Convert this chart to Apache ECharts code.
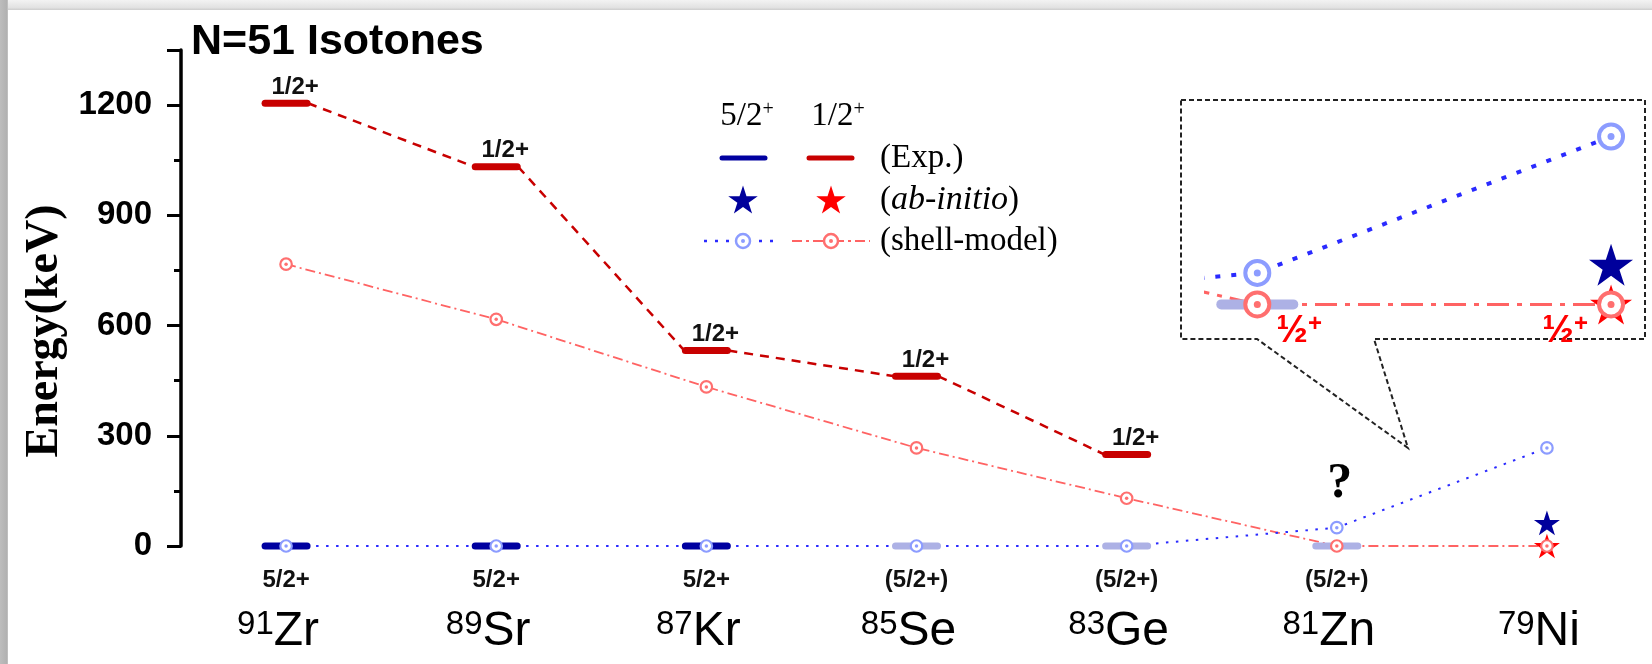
<!DOCTYPE html>
<html>
<head>
<meta charset="utf-8">
<title>N=51 Isotones</title>
<script src="https://cdn.jsdelivr.net/npm/echarts@6.0.0/dist/echarts.min.js"></script>
<style>
  html, body { margin: 0; padding: 0; background: #fff; }
  #main { width: 1652px; height: 664px; }
</style>
</head>
<body>
<div id="main"></div>
<script>
// N = 51 isotones, from Z = 40 down to Z = 28
var massNumbers = ['91', '89', '87', '85', '83', '81', '79']
var elements = ['Zr', 'Sr', 'Kr', 'Se', 'Ge', 'Zn', 'Ni']

// experimental levels (keV), null = not measured
var exp52 = [0, 0, 0, 0, 0, 0, null]
var exp52Labels = ['5/2+', '5/2+', '5/2+', '(5/2+)', '(5/2+)', '(5/2+)', '']
var exp52Tentative = [false, false, false, true, true, true, false]
var exp12 = [1205, 1032, 532, 462, 249, null, null]
var exp12Labels = ['1/2+', '1/2+', '1/2+', '1/2+', '1/2+', '', '']

// shell-model results (keV)
var sm52 = [0, 0, 0, 0, 0, 50, 267]
var sm12 = [767, 617, 433, 267, 130, 0, 0]

// ab-initio results (keV)
var ab52 = [null, null, null, null, null, null, 63]
var ab12 = [null, null, null, null, null, null, 0]

// y axis tick labels
var yTicks = [0, 300, 600, 900, 1200]

var SANS = '"Liberation Sans", Arial, sans-serif'
var SERIF = '"Liberation Serif", "Times New Roman", serif'
var EXP_RED = '#c80000'
var EXP_BLUE = '#0000a0'
var EXP_BLUE_TENT = '#adb1e5'
var SM_RED = '#ff6363'
var SM_RED_RING = '#ff6f6f'
var SM_BLUE = '#2a2aff'
var SM_BLUE_RING = '#8c9cff'
var STAR = 'path://M50,0L61.23,34.55L97.55,34.55L68.17,55.9L79.39,90.45L50,69.1L20.61,90.45L31.83,55.9L2.45,34.55L38.77,34.55Z'

function pairs (arr) {
  var out = []
  arr.forEach(function (v, i) {
    if (v !== null) out.push([i, v])
  })
  return out
}

function links (arr) {
  var out = []
  for (var i = 0; i < arr.length - 1; i++) {
    if (arr[i] !== null && arr[i + 1] !== null) out.push([i, arr[i], arr[i + 1]])
  }
  return out
}

// horizontal level bars, optional spin label
function levelSeries (opt) {
  return {
    type: 'custom',
    xAxisIndex: opt.grid,
    yAxisIndex: opt.grid,
    z: 3,
    clip: !!opt.clip,
    silent: true,
    data: pairs(opt.values),
    encode: { x: 0, y: 1 },
    renderItem: function (params, api) {
      var i = api.value(0)
      var p = api.coord([i, api.value(1)])
      var children = [{
        type: 'line',
        shape: { x1: p[0] - opt.half, y1: p[1], x2: p[0] + opt.half, y2: p[1] },
        style: { stroke: opt.color(i), lineWidth: opt.width, lineCap: 'round' }
      }]
      if (opt.labels && opt.labels[i]) {
        children.push({
          type: 'text',
          x: p[0] + opt.labelDx,
          y: p[1] + opt.labelDy,
          style: {
            text: opt.labels[i],
            fontFamily: SANS,
            fontSize: 24,
            fontWeight: 'bold',
            fill: '#111',
            align: 'center',
            verticalAlign: 'middle'
          }
        })
      }
      return { type: 'group', children: children }
    }
  }
}

function starSeries (values, color, grid, size) {
  return {
    type: 'scatter',
    xAxisIndex: grid,
    yAxisIndex: grid,
    z: 4,
    silent: true,
    symbol: STAR,
    symbolKeepAspect: true,
    symbolSize: size,
    itemStyle: { color: color, opacity: 1 },
    data: pairs(values)
  }
}

function ringSeries (data, color, grid, size, bw) {
  return {
    type: 'scatter',
    xAxisIndex: grid,
    yAxisIndex: grid,
    z: 5,
    silent: true,
    symbol: 'circle',
    symbolSize: size,
    itemStyle: { color: '#fff', borderColor: color, borderWidth: bw, opacity: 1 },
    data: data
  }
}

function dotSeries (values, color, grid, size) {
  return {
    type: 'scatter',
    xAxisIndex: grid,
    yAxisIndex: grid,
    z: 6,
    silent: true,
    symbol: 'circle',
    symbolSize: size,
    itemStyle: { color: color, opacity: 1 },
    data: pairs(values)
  }
}

function starPoints (cx, cy, r) {
  var pts = []
  for (var k = 0; k < 10; k++) {
    var a = -Math.PI / 2 + k * Math.PI / 5
    var rr = k % 2 === 0 ? r : r * 0.382
    pts.push([cx + rr * Math.cos(a), cy + rr * Math.sin(a)])
  }
  return pts
}

// main-chart shell-model 5/2+ points, the 81Zn one carries the "?"
var sm52Main = pairs(sm52).map(function (d) {
  if (d[0] !== 5) return d
  return {
    value: d,
    label: {
      show: true,
      position: 'top',
      distance: 12,
      formatter: '?',
      fontFamily: SERIF,
      fontSize: 50,
      fontWeight: 'bold',
      color: '#000',
      offset: [3, 0]
    }
  }
})

// inset shell-model 1/2+ points with the red ½+ tags
var sm12Inset = pairs(sm12).map(function (d) {
  if (d[0] < 5) return d
  return {
    value: d,
    label: {
      show: true,
      position: d[0] === 5 ? 'right' : 'left',
      distance: d[0] === 5 ? 5 : 9,
      offset: [0, 27],
      formatter: '{h|½}{p|+}',
      rich: {
        h: { fontFamily: SANS, fontSize: 38, fontWeight: 'bold', color: '#ff0000' },
        p: { fontFamily: SANS, fontSize: 24, fontWeight: 'bold', color: '#ff0000', verticalAlign: 'top', lineHeight: 18 }
      }
    }
  }
})

var legendText = { fontFamily: SERIF, fontSize: 33, fill: '#000', verticalAlign: 'middle' }
var headRich = {
  n: { fontFamily: SERIF, fontSize: 33, fill: '#000' },
  s: { fontFamily: SERIF, fontSize: 20, fill: '#000', verticalAlign: 'top', lineHeight: 14 }
}

var graphic = [
  // picture frame shadow
  {
    type: 'rect', shape: { x: 0, y: 0, width: 1652, height: 10 }, silent: true,
    style: { fill: new echarts.graphic.LinearGradient(0, 0, 0, 1, [{ offset: 0, color: '#f3f3f3' }, { offset: 0.75, color: '#e2e2e2' }, { offset: 1, color: '#cdcdcd' }]) }
  },
  {
    type: 'rect', shape: { x: 0, y: 0, width: 8, height: 664 }, silent: true,
    style: { fill: new echarts.graphic.LinearGradient(0, 0, 1, 0, [{ offset: 0, color: '#bdbdbd' }, { offset: 0.85, color: '#b1b1b1' }, { offset: 1, color: '#c9c9c9' }]) }
  },
  // legend
  { type: 'text', x: 747, y: 116, silent: true, style: { text: '{n|5/2}{s|+}', rich: headRich, align: 'center', verticalAlign: 'middle' } },
  { type: 'text', x: 838, y: 116, silent: true, style: { text: '{n|1/2}{s|+}', rich: headRich, align: 'center', verticalAlign: 'middle' } },
  { type: 'line', silent: true, shape: { x1: 722, y1: 158, x2: 765, y2: 158 }, style: { stroke: EXP_BLUE, lineWidth: 5, lineCap: 'round' } },
  { type: 'line', silent: true, shape: { x1: 809, y1: 158, x2: 852, y2: 158 }, style: { stroke: EXP_RED, lineWidth: 5, lineCap: 'round' } },
  { type: 'text', x: 880, y: 158, silent: true, style: Object.assign({ text: '(Exp.)' }, legendText) },
  { type: 'polygon', silent: true, shape: { points: starPoints(743, 201, 15.5) }, style: { fill: '#00009c' } },
  { type: 'polygon', silent: true, shape: { points: starPoints(831, 201, 15.5) }, style: { fill: '#ff0000' } },
  {
    type: 'text', x: 880, y: 200, silent: true,
    style: {
      text: '{r|(}{i|ab-initio}{r|)}',
      verticalAlign: 'middle',
      rich: {
        r: { fontFamily: SERIF, fontSize: 33, fill: '#000' },
        i: { fontFamily: SERIF, fontSize: 34, fontStyle: 'italic', fill: '#000' }
      }
    }
  },
  { type: 'line', silent: true, shape: { x1: 704, y1: 241, x2: 778, y2: 241 }, style: { stroke: SM_BLUE, lineWidth: 2.5, lineDash: [3, 8] } },
  { type: 'circle', silent: true, shape: { cx: 743, cy: 241, r: 7 }, style: { fill: '#fff', stroke: SM_BLUE_RING, lineWidth: 2.5 } },
  { type: 'circle', silent: true, shape: { cx: 743, cy: 241, r: 2 }, style: { fill: SM_BLUE_RING } },
  { type: 'line', silent: true, shape: { x1: 792, y1: 241, x2: 870, y2: 241 }, style: { stroke: SM_RED, lineWidth: 2, lineDash: [10, 4, 3, 4] } },
  { type: 'circle', silent: true, shape: { cx: 831, cy: 241, r: 7 }, style: { fill: '#fff', stroke: SM_RED_RING, lineWidth: 2.5 } },
  { type: 'circle', silent: true, shape: { cx: 831, cy: 241, r: 2 }, style: { fill: SM_RED_RING } },
  { type: 'text', x: 880, y: 241, silent: true, style: Object.assign({ text: '(shell-model)' }, legendText) },
  // callout around the zoomed 81Zn-79Ni view
  {
    type: 'polygon', silent: true,
    shape: { points: [[1181, 100], [1645, 100], [1645, 339], [1374, 339], [1408, 448], [1257, 339], [1181, 339]] },
    style: { fill: 'none', stroke: '#222', lineWidth: 2, lineDash: [5, 3] }
  }
]

var chartDom = document.getElementById('main')
var myChart = echarts.init(chartDom)
var option

option = {
  backgroundColor: '#fff',
  animation: false,
  title: {
    text: 'N=51 Isotones',
    left: 191,
    top: 21,
    padding: 0,
    textStyle: { fontFamily: SANS, fontSize: 43, fontWeight: 'bold', color: '#000' }
  },
  graphic: graphic,
  grid: [
    { left: 181, top: 50, width: 1484, bottom: 118 },
    { left: 1206, top: 100, width: 439, height: 239 }
  ],
  xAxis: [{
    type: 'category',
    gridIndex: 0,
    data: elements,
    boundaryGap: true,
    axisLine: { show: false },
    axisTick: { show: false },
    splitLine: { show: false },
    axisLabel: {
      interval: 0,
      margin: 62,
      padding: [0, 16, 0, 0],
      formatter: function (value, index) {
        return '{sup|' + massNumbers[index] + '}{el|' + value + '}'
      },
      rich: {
        sup: { fontFamily: SANS, fontSize: 33, color: '#000', verticalAlign: 'top', lineHeight: 21 },
        el: { fontFamily: SANS, fontSize: 48, color: '#000', lineHeight: 48 }
      }
    }
  }, {
    type: 'value',
    gridIndex: 1,
    min: 4.855,
    max: 6.096,
    show: false
  }],
  yAxis: [{
    type: 'value',
    gridIndex: 0,
    min: 0,
    max: 1350,
    interval: 300,
    name: 'Energy(keV)',
    nameLocation: 'middle',
    nameRotate: 90,
    nameGap: 111,
    nameTextStyle: { fontFamily: SERIF, fontSize: 46, fontWeight: 'bold', color: '#000', padding: [0, 66, 0, 0] },
    axisLine: { show: true, lineStyle: { color: '#000', width: 3.5 } },
    axisTick: { show: true, length: 14, lineStyle: { color: '#000', width: 3 } },
    minorTick: { show: true, splitNumber: 2, length: 7, lineStyle: { color: '#000', width: 3 } },
    splitLine: { show: false },
    axisLabel: {
      margin: 29,
      fontFamily: SANS,
      fontSize: 33,
      fontWeight: 'bold',
      color: '#000',
      formatter: function (v) {
        return yTicks.indexOf(v) >= 0 ? String(v) : ''
      }
    }
  }, {
    type: 'value',
    gridIndex: 1,
    min: -55,
    max: 325,
    show: false
  }],
  series: [
    // ---- main panel ----
    {
      type: 'line', xAxisIndex: 0, yAxisIndex: 0, z: 2, silent: true,
      data: sm12, symbol: 'none',
      lineStyle: { color: SM_RED, width: 1.8, type: [10, 4, 2, 4] }
    },
    {
      type: 'line', xAxisIndex: 0, yAxisIndex: 0, z: 2, silent: true,
      data: sm52, symbol: 'none',
      lineStyle: { color: SM_BLUE, width: 2, type: [2.5, 7.5] }
    },
    {
      type: 'custom', xAxisIndex: 0, yAxisIndex: 0, z: 2, silent: true,
      data: links(exp12),
      encode: { x: 0, y: [1, 2] },
      renderItem: function (params, api) {
        var a = api.coord([api.value(0), api.value(1)])
        var b = api.coord([api.value(0) + 1, api.value(2)])
        return {
          type: 'line',
          shape: { x1: a[0] + 22, y1: a[1], x2: b[0] - 22, y2: b[1] },
          style: { stroke: EXP_RED, lineWidth: 2.5, lineDash: [9, 7] }
        }
      }
    },
    levelSeries({
      grid: 0, values: exp52, half: 21, width: 7,
      color: function (i) { return exp52Tentative[i] ? EXP_BLUE_TENT : EXP_BLUE },
      labels: exp52Labels, labelDx: 0, labelDy: 34
    }),
    levelSeries({
      grid: 0, values: exp12, half: 21, width: 7,
      color: function () { return EXP_RED },
      labels: exp12Labels, labelDx: 9, labelDy: -16
    }),
    starSeries(ab12, '#ff0000', 0, 26),
    starSeries(ab52, '#00009c', 0, 26),
    ringSeries(sm52Main, SM_BLUE_RING, 0, 11.5, 2.2),
    ringSeries(pairs(sm12), SM_RED_RING, 0, 11.5, 2.2),
    dotSeries(sm52, SM_BLUE_RING, 0, 3.5),
    dotSeries(sm12, SM_RED_RING, 0, 3.5),
    // ---- zoomed inset ----
    {
      type: 'line', xAxisIndex: 1, yAxisIndex: 1, z: 2, silent: true, clip: true,
      data: pairs(sm12), symbol: 'none',
      lineStyle: { color: SM_RED, width: 3, type: [22, 8, 5, 8] }
    },
    {
      type: 'line', xAxisIndex: 1, yAxisIndex: 1, z: 2, silent: true, clip: true,
      data: pairs(sm52), symbol: 'none',
      lineStyle: { color: SM_BLUE, width: 4, type: [5, 11] }
    },
    levelSeries({
      grid: 1, values: exp52, half: 36, width: 10, clip: true,
      color: function (i) { return exp52Tentative[i] ? EXP_BLUE_TENT : EXP_BLUE }
    }),
    starSeries(ab12, '#ff0000', 1, 42),
    starSeries(ab52, '#00009c', 1, 44),
    ringSeries(pairs(sm52), SM_BLUE_RING, 1, 24, 4),
    ringSeries(sm12Inset, SM_RED_RING, 1, 24, 4),
    dotSeries(sm52, SM_BLUE_RING, 1, 7),
    dotSeries(sm12, SM_RED_RING, 1, 7)
  ]
}

option && myChart.setOption(option)
</script>
</body>
</html>
